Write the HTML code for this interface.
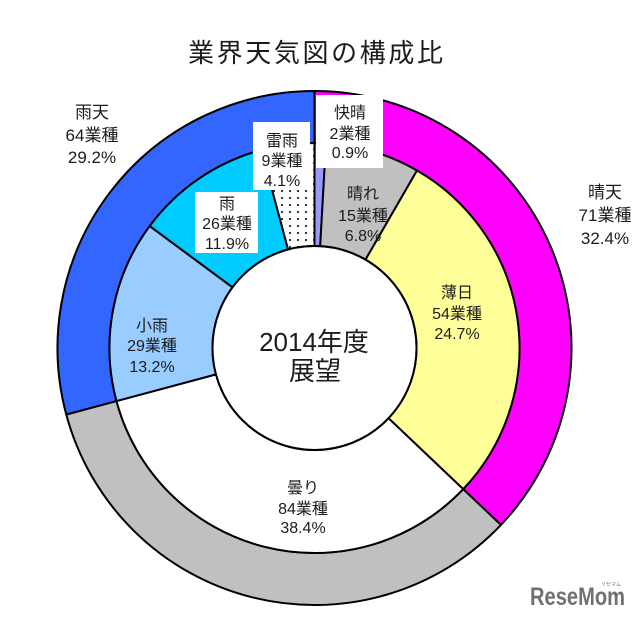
<!DOCTYPE html>
<html>
<head>
<meta charset="utf-8">
<style>
  html,body{margin:0;padding:0;background:#fff;}
  svg{display:block;}
  text{font-family:"Liberation Sans","Noto Sans CJK JP",sans-serif;fill:#1c1c1c;}
  .in{font-size:16px;text-anchor:middle;}
  .out{font-size:17px;text-anchor:middle;}
</style>
</head>
<body>
<svg width="640" height="619" viewBox="0 0 640 619" xmlns="http://www.w3.org/2000/svg">
  <defs>
    <pattern id="dots" x="0" y="0" width="8" height="7" patternUnits="userSpaceOnUse">
      <rect width="8" height="7" fill="#ffffff"/>
      <circle cx="2" cy="2" r="1.1" fill="#222"/>
    </pattern>
  </defs>
  <rect width="640" height="619" fill="#fff"/>

  <!-- Title -->
  <text x="188" y="62" font-size="26" textLength="255" lengthAdjust="spacing">業界天気図の構成比</text>

  <g stroke="#000" stroke-width="2" stroke-linejoin="round">
    <!-- Outer ring -->
    <path d="M314.5,91 A257,257 0 0 1 500.92,524.91 L463.2,489.11 A205,205 0 0 0 314.5,143 Z" fill="#ff00ff"/>
    <path d="M500.92,524.91 A257,257 0 0 1 66.26,414.52 L116.48,401.06 A205,205 0 0 0 463.2,489.11 Z" fill="#c0c0c0"/>
    <path d="M66.26,414.52 A257,257 0 0 1 314.5,91 L314.5,143 A205,205 0 0 0 116.48,401.06 Z" fill="#3366ff"/>

    <!-- Inner ring -->
    <path d="M314.5,143 A205,205 0 0 1 325.94,143.32 L320.19,246.16 A102,102 0 0 0 314.5,246 Z" fill="#9999ff"/>
    <path d="M325.94,143.32 A205,205 0 0 1 417,170.46 L365.5,259.67 A102,102 0 0 0 320.19,246.16 Z" fill="#c0c0c0"/>
    <path d="M417,170.46 A205,205 0 0 1 463.2,489.11 L388.49,418.21 A102,102 0 0 0 365.5,259.67 Z" fill="#ffff99"/>
    <path d="M463.2,489.11 A205,205 0 0 1 116.48,401.06 L215.98,374.4 A102,102 0 0 0 388.49,418.21 Z" fill="#ffffff"/>
    <path d="M116.48,401.06 A205,205 0 0 1 149.71,226.06 L232.51,287.33 A102,102 0 0 0 215.98,374.4 Z" fill="#99ccff"/>
    <path d="M149.71,226.06 A205,205 0 0 1 261.44,149.98 L288.1,249.48 A102,102 0 0 0 232.51,287.33 Z" fill="#00ccff"/>
    <path d="M261.44,149.98 A205,205 0 0 1 314.5,143 L314.5,246 A102,102 0 0 0 288.1,249.48 Z" fill="url(#dots)"/>

    <!-- Hole -->
    <circle cx="314.5" cy="348" r="102" fill="#ffffff"/>
  </g>

  <!-- Label boxes -->
  <rect x="316" y="95" width="67" height="73" fill="#fff"/>
  <rect x="253" y="122" width="57" height="68" fill="#fff"/>
  <rect x="195" y="192" width="63" height="61" fill="#fff"/>

  <!-- Outer labels -->
  <text class="out" x="92" y="118">雨天</text>
  <text class="out" x="92" y="141">64業種</text>
  <text class="out" x="92" y="163">29.2%</text>

  <text class="out" x="605" y="198">晴天</text>
  <text class="out" x="605" y="221">71業種</text>
  <text class="out" x="605" y="244">32.4%</text>

  <!-- Inner labels -->
  <text class="in" x="350" y="118">快晴</text>
  <text class="in" x="350" y="139">2業種</text>
  <text class="in" x="350" y="158">0.9%</text>

  <text class="in" x="282" y="146">雷雨</text>
  <text class="in" x="282" y="166">9業種</text>
  <text class="in" x="282" y="186">4.1%</text>

  <text class="in" x="227" y="209">雨</text>
  <text class="in" x="227" y="229">26業種</text>
  <text class="in" x="227" y="249">11.9%</text>

  <text class="in" x="363" y="199">晴れ</text>
  <text class="in" x="363" y="221">15業種</text>
  <text class="in" x="363" y="241">6.8%</text>

  <text class="in" x="457" y="298">薄日</text>
  <text class="in" x="457" y="319">54業種</text>
  <text class="in" x="457" y="339">24.7%</text>

  <text class="in" x="152" y="331">小雨</text>
  <text class="in" x="152" y="351">29業種</text>
  <text class="in" x="152" y="372">13.2%</text>

  <text class="in" x="303" y="493">曇り</text>
  <text class="in" x="303" y="514">84業種</text>
  <text class="in" x="303" y="533">38.4%</text>

  <!-- Center -->
  <text x="314" y="351" font-size="26" text-anchor="middle">2014年度</text>
  <text x="315" y="380" font-size="26" text-anchor="middle">展望</text>

  <!-- Logo -->
  <text x="530" y="605" font-size="25" font-weight="bold" textLength="95" lengthAdjust="spacingAndGlyphs" style="fill:#707070">ReseMom</text>
  <text x="601" y="586" font-size="5" style="fill:#707070">リセマム</text>
</svg>
</body>
</html>
